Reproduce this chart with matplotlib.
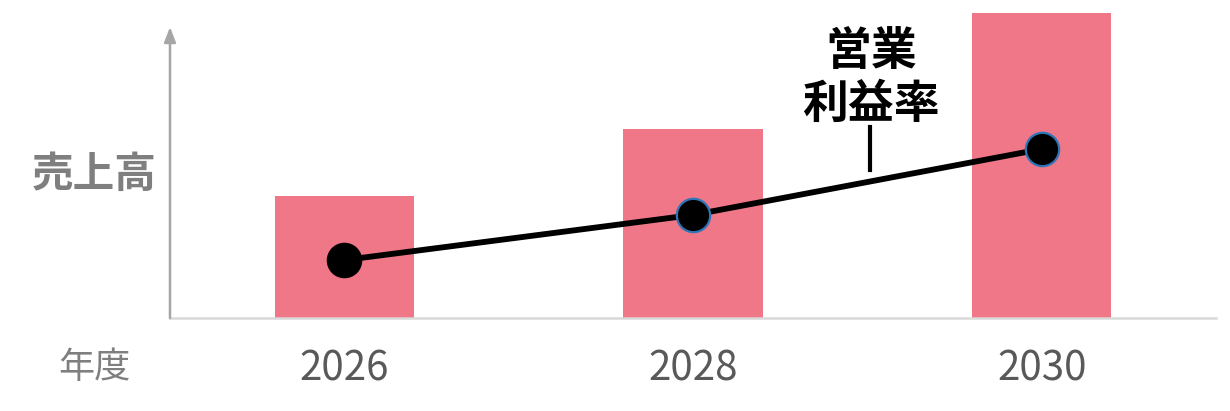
import matplotlib
matplotlib.use('Agg')
import matplotlib.pyplot as plt

plt.rcParams['font.family'] = ['Noto Sans CJK JP', 'DejaVu Sans']

years = ['2026', '2028', '2030']
sales = [40, 62, 100]          # relative sales (bars)
profit_rate = [19, 33.8, 55.4]  # relative operating margin (line)
marker_edges = ['black', '#2E75B6', '#2E75B6']

bar_color = '#F07787'

fig = plt.figure(figsize=(12.3, 4.11), dpi=100)
ax = fig.add_axes([170 / 1230, 93 / 411, 1046 / 1230, 318 / 411])

x = list(range(len(years)))
ax.bar(x, sales, width=0.4, color=bar_color, zorder=2)
ax.plot(x, profit_rate, color='black', lw=4.2, zorder=3)
for xi, yi, ec in zip(x, profit_rate, marker_edges):
    ax.plot(xi, yi, 'o', ms=24, mfc='black', mec=ec, mew=1.6, zorder=4)

ax.set_xlim(-0.5, 2.5)
ax.set_ylim(0, 104.3)

for s in ['top', 'right', 'left']:
    ax.spines[s].set_visible(False)
ax.spines['bottom'].set_color('#D9D9D9')
ax.spines['bottom'].set_linewidth(1.8)
ax.set_yticks([])
ax.set_xticks(x)
ax.set_xticklabels(years, fontsize=29, color='#595959')
ax.tick_params(axis='x', length=0, pad=22)

# y axis arrow
ax.annotate('', xy=(0, 0.915), xytext=(0, 0), xycoords='axes fraction',
            arrowprops=dict(arrowstyle='-|>,head_width=0.35,head_length=0.9',
                            color='#A6A6A6', lw=1.8, shrinkA=0, shrinkB=0),
            annotation_clip=False)

fig.text(94 / 1230, 1 - 175 / 411, '売上高', fontsize=30, fontweight='bold',
         color='#7F7F7F', ha='center', va='center')
fig.text(94 / 1230, 1 - 368 / 411, '年度', fontsize=26, color='#7F7F7F',
         ha='center', va='center')

# line label with leader
ax.text(1.51, 87.2, '営業', fontsize=33, fontweight='bold', ha='center', va='center')
ax.text(1.51, 69.8, '利益率', fontsize=33, fontweight='bold', ha='center', va='center')
ax.plot([1.509, 1.509], [48.5, 62.6], color='black', lw=3, zorder=3)

fig.savefig('out.png', dpi=100)
